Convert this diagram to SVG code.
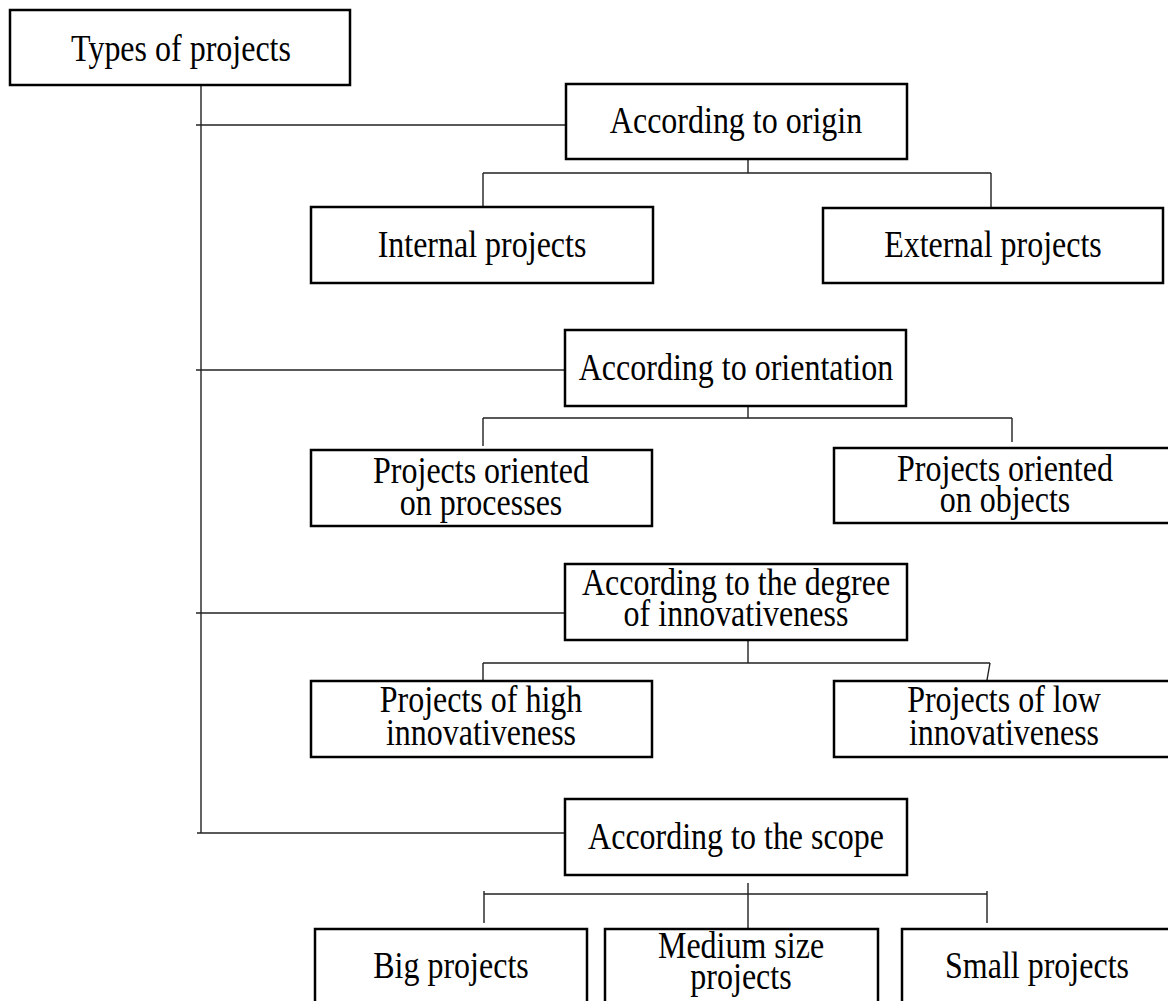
<svg xmlns="http://www.w3.org/2000/svg" width="1168" height="1001" viewBox="0 0 1168 1001">
  <style>
    .box { fill: #fff; stroke: #000; stroke-width: 2.5; }
    .lbl { font-family: "Liberation Serif", "Times New Roman", serif; font-size: 37px; fill: #000; text-anchor: middle; }
    .conn { fill: none; stroke: #222; stroke-width: 1.4; }
  </style>
  <rect width="1168" height="1001" fill="#fff"/>

  <!-- connectors -->
  <g id="connectors" class="conn">
    <!-- trunk and branches -->
    <path d="M201,85 V833"/>
    <path d="M196,125 H566"/>
    <path d="M196,370 H565"/>
    <path d="M196,613 H566"/>
    <path d="M197,833 H566"/>
    <!-- origin -->
    <path d="M748,159 V173 M483,173 H991 M483,173 V207 M991,173 V207"/>
    <!-- orientation -->
    <path d="M748,406 V418 M483,418 H1012 M483,418 V446 M1012,418 V442"/>
    <!-- innovativeness -->
    <path d="M748,640 V663 M483,663 H990 M483,663 V681 M990,663 L987,680"/>
    <!-- scope -->
    <path d="M748,883 V929 M484,894 H987 M484,891 V923 M987,891 V923"/>
  </g>

  <!-- labels use a condensed serif: scale(0.865 1) -->
  <g id="types">
    <rect class="box" x="10" y="10" width="340" height="75"/>
    <text class="lbl" transform="translate(181 61) scale(0.865 1)">Types of projects</text>
  </g>

  <g id="origin">
    <rect class="box" x="566" y="84" width="341" height="75"/>
    <text class="lbl" transform="translate(736 133) scale(0.865 1)">According to origin</text>
  </g>
  <g id="internal">
    <rect class="box" x="311" y="207" width="342" height="76"/>
    <text class="lbl" transform="translate(482 257) scale(0.865 1)">Internal projects</text>
  </g>
  <g id="external">
    <rect class="box" x="823" y="208" width="340" height="75"/>
    <text class="lbl" transform="translate(993 257) scale(0.865 1)">External projects</text>
  </g>

  <g id="orientation">
    <rect class="box" x="565" y="330" width="341" height="76"/>
    <text class="lbl" transform="translate(736 380) scale(0.865 1)">According to orientation</text>
  </g>
  <g id="processes">
    <rect class="box" x="311" y="450" width="341" height="76"/>
    <text class="lbl" transform="translate(481 483) scale(0.865 1)">Projects oriented</text>
    <text class="lbl" transform="translate(481 515) scale(0.865 1)">on processes</text>
  </g>
  <g id="objects">
    <rect class="box" x="834" y="448" width="341" height="75"/>
    <text class="lbl" transform="translate(1005 481) scale(0.865 1)">Projects oriented</text>
    <text class="lbl" transform="translate(1005 512) scale(0.865 1)">on objects</text>
  </g>

  <g id="innovativeness">
    <rect class="box" x="565" y="564" width="342" height="76"/>
    <text class="lbl" transform="translate(736 595) scale(0.865 1)">According to the degree</text>
    <text class="lbl" transform="translate(736 626) scale(0.865 1)">of innovativeness</text>
  </g>
  <g id="high">
    <rect class="box" x="311" y="681" width="341" height="76"/>
    <text class="lbl" transform="translate(481 712) scale(0.865 1)">Projects of high</text>
    <text class="lbl" transform="translate(481 745) scale(0.865 1)">innovativeness</text>
  </g>
  <g id="low">
    <rect class="box" x="834" y="681" width="341" height="76"/>
    <text class="lbl" transform="translate(1004 712) scale(0.865 1)">Projects of low</text>
    <text class="lbl" transform="translate(1004 745) scale(0.865 1)">innovativeness</text>
  </g>

  <g id="scope">
    <rect class="box" x="565" y="799" width="342" height="76"/>
    <text class="lbl" transform="translate(736 849) scale(0.865 1)">According to the scope</text>
  </g>
  <g id="big">
    <rect class="box" x="315" y="929" width="272" height="76"/>
    <text class="lbl" transform="translate(451 978) scale(0.865 1)">Big projects</text>
  </g>
  <g id="medium">
    <rect class="box" x="605" y="929" width="273" height="76"/>
    <text class="lbl" transform="translate(741 958) scale(0.865 1)">Medium size</text>
    <text class="lbl" transform="translate(741 989) scale(0.865 1)">projects</text>
  </g>
  <g id="small">
    <rect class="box" x="902" y="929" width="272" height="76"/>
    <text class="lbl" transform="translate(1037 978) scale(0.865 1)">Small projects</text>
  </g>
</svg>
